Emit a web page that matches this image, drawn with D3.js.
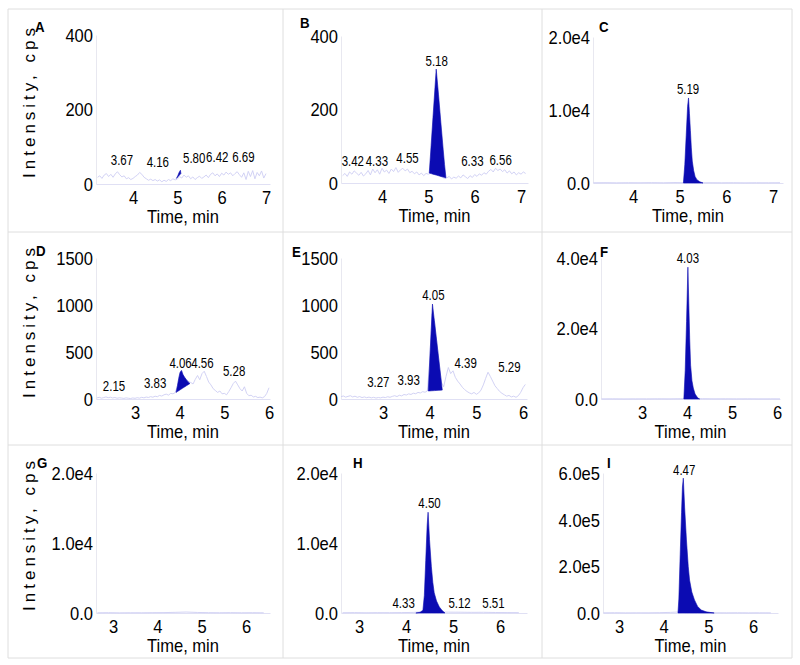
<!DOCTYPE html>
<html><head><meta charset="utf-8">
<script src="https://cdn.jsdelivr.net/npm/d3@7"></script>
<style>body{margin:0;background:#fff}</style>
</head><body><svg id="c" width="800" height="665"></svg>
<script>
// ================= DATA =================
const xTicksTop = [4, 5, 6, 7];
const xTicksMid = [3, 4, 5, 6];
const xTicksBot = [3, 4, 5, 6];

const yTicksAB = [0, 200, 400];          const yLabelsAB = ["0", "200", "400"];
const yTicksC  = [0, 10000, 20000];      const yLabelsC  = ["0.0", "1.0e4", "2.0e4"];
const yTicksDE = [0, 500, 1000, 1500];   const yLabelsDE = ["0", "500", "1000", "1500"];
const yTicksF  = [0, 20000, 40000];      const yLabelsF  = ["0.0", "2.0e4", "4.0e4"];
const yTicksGH = [0, 10000, 20000];      const yLabelsGH = ["0.0", "1.0e4", "2.0e4"];
const yTicksI  = [0, 200000, 400000, 600000]; const yLabelsI = ["0.0", "2.0e5", "4.0e5", "6.0e5"];

// background traces (intensity, cps) sampled on a regular time grid
const traceA_start = 3.20, traceA_step = 0.05;
const traceA = [18,22,15,24,28,20,26,18,27,33, 25,19,22,14,17,12,15,20,24,31,
  26,18,14,10,13,9,12,8,11,6, 10,7,12,9,14,11,13,20,16,24,
  18,22,14,19,12,17,21,15,19,24, 17,26,30,22,27,20,29,24,32,26,
  30,22,28,33,25,18,30,12,34,20, 36,14,31,22,35,16,28];
const traceB_start = 3.15, traceB_step = 0.05;
const traceB = [20,26,18,30,24,33,27,21,29,19, 25,34,22,38,28,36,24,40,30,35,
  26,38,31,42,29,36,40,33,38,28, 32,25,30,22,27,20,26,24,27,30,
  28,25,20,16,12,14,18,11,16,13, 19,14,22,17,12,20,15,23,18,25,
  21,28,24,32,37,30,40,34,38,31, 36,27,33,25,30,22,28,24,30,26];
const traceC_start = 3.15, traceC_step = 0.25;
const traceC = [30,45,25,40,35,50,30,60,40,35,45,30,40,25,35,30,40];
const traceD_start = 2.15, traceD_step = 0.05;
const traceD = [12,18,9,15,22,14,19,11,16,8, 13,10,6,12,8,5,11,7,14,9,
  18,12,21,16,25,19,30,24,38,31, 45,52,41,60,55,68,140,270,300,230,
  210,185,175,160,210,250,205,270,295,240, 180,150,110,90,70,85,55,60,45,80,
  120,165,190,150,110,85,130,60,35,40, 22,28,15,20,12,25,60,120];
const traceE_start = 2.10, traceE_step = 0.05;
const traceE = [25,32,20,28,35,22,30,18,26,15, 22,14,20,12,18,10,16,12,20,15,
  24,18,28,35,26,40,33,48,42,55, 48,62,56,70,64,78,72,85,393,907,
  836,618,400,182,130,240,335,270,300,230, 190,160,125,100,80,65,55,70,50,65,
  95,150,220,285,240,190,140,110,80,60, 45,30,38,22,30,18,35,70,120,155];
const traceF_start = 2.10, traceF_step = 0.25;
const traceF = [40,60,35,55,45,70,50,80,60,90,55,70,45,60,40,50,45];
const traceG_start = 2.65, traceG_step = 0.25;
const traceG = [30,45,25,40,35,50,60,90,140,80,50,40,55,35,45,30];
const traceH_start = 2.65, traceH_step = 0.25;
const traceH = [40,55,35,50,45,60,80,200,150,120,110,90,100,70,60,50];
const traceI_start = 2.65, traceI_step = 0.25;
const traceI = [800,1200,700,1000,900,1500,2500,5000,3000,1500,1200,900,1100,800,1000,700];

// integrated (filled) peaks: [time, intensity]
const peakA = [[4.98,15],[5.01,22],[5.04,31],[5.07,37],[5.08,28]];
const peakB = [[5.02,27],[5.06,102],[5.10,178],[5.14,253],[5.17,310],[5.22,240],[5.27,165],[5.32,92],[5.35,50],[5.38,14]];
const peakC = [[5.08,0],[5.11,2500],[5.14,6500],[5.17,10500],[5.19,11650],[5.21,9500],[5.23,7200],[5.25,4800],[5.27,3000],[5.30,1700],[5.33,900],[5.37,450],[5.43,180],[5.50,0]];
const peakD = [[3.92,70],[3.95,140],[3.98,220],[4.01,285],[4.04,304],[4.07,262],[4.11,232],[4.15,205],[4.19,182],[4.23,165]];
const peakE = [[3.97,85],[4.00,393],[4.03,702],[4.06,1010],[4.10,836],[4.14,662],[4.18,487],[4.22,313],[4.27,95]];
const peakF = [[3.93,0],[3.96,8000],[3.99,22000],[4.02,37400],[4.04,27000],[4.06,17000],[4.08,9600],[4.11,5200],[4.14,3100],[4.18,1400],[4.24,300],[4.28,0]];
const peakG = [];
const peakH = [[4.21,0],[4.30,100],[4.36,400],[4.39,2500],[4.42,7500],[4.45,12500],[4.47,14400],[4.50,10500],[4.54,6600],[4.57,4400],[4.60,2900],[4.65,1700],[4.71,860],[4.77,350],[4.83,0]];
const peakI = [[4.32,0],[4.34,60000],[4.37,250000],[4.40,430000],[4.42,540000],[4.44,578000],[4.47,450000],[4.51,313000],[4.55,200000],[4.58,141000],[4.63,90000],[4.69,56000],[4.76,28000],[4.84,13000],[4.95,5000],[5.13,0]];

// retention-time labels: [text, time anchor, intensity anchor]
const labelsA = [["3.67",3.75,51],["4.16",4.56,46],["5.80",5.38,56],["6.42",5.90,59],["6.69",6.49,59]];
const labelsB = [["3.42",3.37,46],["4.33",3.89,46],["4.55",4.55,54],["5.18",5.18,318],["6.33",5.95,46],["6.56",6.56,49]];
const labelsC = [["5.19",5.18,12190]];
const labelsD = [["2.15",2.53,85],["3.83",3.45,117],["4.06",4.02,331],["4.56",4.51,331],["5.28",5.22,245]];
const labelsE = [["3.27",2.90,127],["3.93",3.55,148],["4.05",4.08,1056],["4.39",4.77,327],["5.29",5.71,285]];
const labelsF = [["4.03",4.02,38580]];
const labelsG = [];
const labelsH = [["4.33",3.95,714],["4.50",4.50,15000],["5.12",5.14,714],["5.51",5.86,714]];
const labelsI = [["4.47",4.46,591400]];

const panelNames = ["A","B","C","D","E","F","G","H","I"];

// ================= LAYOUT / STYLE =================
const FONT = "'Liberation Sans', Arial, Helvetica, sans-serif";
const SX = 0.92, SXL = 0.82;
const svg = d3.select("#c");
svg.append("rect").attr("width",800).attr("height",665).attr("fill","#fff");

// cell grid
const rowsY = [9, 232, 445, 658], colsX = [8, 283, 542, 792];
rowsY.forEach(yy => svg.append("line").attr("x1",8).attr("x2",792).attr("y1",yy).attr("y2",yy).attr("stroke","#dedede"));
colsX.forEach(xx => svg.append("line").attr("x1",xx).attr("x2",xx).attr("y1",9).attr("y2",658).attr("stroke","#dedede"));

const panels = [
 {trace:traceA,t0:traceA_start,dt:traceA_step,peak:peakA,labels:labelsA,xt:[4,133,7,266],xr:[96,270],yr:[184,35],ymax:400,yT:yTicksAB,yL:yLabelsAB,xT:xTicksTop,let:[35,32]},
 {trace:traceB,t0:traceB_start,dt:traceB_step,peak:peakB,labels:labelsB,xt:[4,382,7,521],xr:[341,528],yr:[183,36],ymax:400,yT:yTicksAB,yL:yLabelsAB,xT:xTicksTop,let:[300,28]},
 {trace:traceC,t0:traceC_start,dt:traceC_step,peak:peakC,labels:labelsC,xt:[4,633,7,773],xr:[593,783],yr:[183,37],ymax:20000,yT:yTicksC,yL:yLabelsC,xT:xTicksTop,let:[599,32]},
 {trace:traceD,t0:traceD_start,dt:traceD_step,peak:peakD,labels:labelsD,xt:[3,135,6,269],xr:[96,270],yr:[399,258],ymax:1500,yT:yTicksDE,yL:yLabelsDE,xT:xTicksMid,let:[36,256]},
 {trace:traceE,t0:traceE_start,dt:traceE_step,peak:peakE,labels:labelsE,xt:[3,383,6,523],xr:[341,527],yr:[399,258],ymax:1500,yT:yTicksDE,yL:yLabelsDE,xT:xTicksMid,let:[292,257]},
 {trace:traceF,t0:traceF_start,dt:traceF_step,peak:peakF,labels:labelsF,xt:[3,642,6,777],xr:[601,780],yr:[399,258],ymax:40000,yT:yTicksF,yL:yLabelsF,xT:xTicksMid,let:[600,257]},
 {trace:traceG,t0:traceG_start,dt:traceG_step,peak:peakG,labels:labelsG,xt:[3,113,6,246],xr:[96,270],yr:[613,473],ymax:20000,yT:yTicksGH,yL:yLabelsGH,xT:xTicksBot,let:[37,468]},
 {trace:traceH,t0:traceH_start,dt:traceH_step,peak:peakH,labels:labelsH,xt:[3,359,6,500],xr:[341,527],yr:[613,473],ymax:20000,yT:yTicksGH,yL:yLabelsGH,xT:xTicksBot,let:[353,468]},
 {trace:traceI,t0:traceI_start,dt:traceI_step,peak:peakI,labels:labelsI,xt:[3,619,6,753],xr:[603,778],yr:[613,473],ymax:600000,yT:yTicksI,yL:yLabelsI,xT:xTicksBot,let:[607,468]}
];

panels.forEach((p, idx) => {
  const g = svg.append("g");
  const tick = d3.scaleLinear().domain([p.xt[0], p.xt[2]]).range([p.xt[1], p.xt[3]]);
  const x = d3.scaleLinear().domain([tick.invert(p.xr[0]), tick.invert(p.xr[1])]).range(p.xr);
  const y = d3.scaleLinear().domain([0, p.ymax]).range(p.yr);

  const cid = "clip" + idx;
  svg.append("clipPath").attr("id", cid).append("rect")
    .attr("x", p.xr[0]).attr("y", p.yr[1] - 30).attr("width", p.xr[1] - p.xr[0]).attr("height", p.yr[0] - p.yr[1] + 32);

  // y axis
  const gy = g.append("g").attr("transform", `translate(${p.xr[0]},0)`)
    .call(d3.axisLeft(y).tickValues(p.yT).tickFormat((d, i) => p.yL[i]).tickSize(0).tickSizeOuter(0))
    .attr("font-family", FONT).attr("font-size", 18);
  gy.select(".domain").attr("stroke", "#e8e8f0");
  gy.selectAll("text").attr("x", -3 / SX).attr("dy", "0.36em").attr("transform", `scale(${SX},1)`).attr("fill", "#000");

  // x axis
  const gx = g.append("g").attr("transform", `translate(0,${p.yr[0]})`)
    .call(d3.axisBottom(x).tickValues(p.xT).tickFormat(d3.format("d")).tickSize(0).tickSizeOuter(0))
    .attr("font-family", FONT).attr("font-size", 18);
  gx.select(".domain").attr("stroke", "#e0e0f4");
  gx.selectAll("text").attr("y", 20).attr("dy", null).attr("transform", `scale(${SX},1)`).attr("fill", "#000");

  // x title
  g.append("text").attr("transform", `translate(${(p.xr[0] + p.xr[1]) / 2},${p.yr[0] + 39}) scale(${SX},1)`)
    .attr("text-anchor", "middle").attr("font-family", FONT).attr("font-size", 18).attr("fill", "#000").text("Time, min");

  const plot = g.append("g").attr("clip-path", `url(#${cid})`);
  // background trace
  const pts = p.trace.map((v, i) => [p.t0 + i * p.dt, v]);
  plot.append("path").datum(pts)
    .attr("d", d3.line().x(d => x(d[0])).y(d => y(d[1])))
    .attr("fill", "none").attr("stroke", "#cdcdf3").attr("stroke-width", 0.9);

  // filled peak
  if (p.peak.length) {
    const [ta, va] = p.peak[0], [tb, vb] = p.peak[p.peak.length - 1];
    const base = t => va + (vb - va) * (t - ta) / (tb - ta);
    plot.append("path").datum(p.peak)
      .attr("d", d3.area().x(d => x(d[0])).y0(d => y(base(d[0]))).y1(d => y(d[1])))
      .attr("fill", "#0b0bb2").attr("stroke", "#0b0bb2").attr("stroke-width", 0.6);
  }

  // peak labels
  p.labels.forEach(l => {
    g.append("text").attr("transform", `translate(${x(l[1])},${y(l[2])}) scale(${SXL},1)`)
      .attr("text-anchor", "middle").attr("font-family", FONT).attr("font-size", 14).attr("fill", "#000").text(l[0]);
  });

  // panel letter
  g.append("text").attr("transform", `translate(${p.let[0]},${p.let[1]}) scale(0.95,1)`)
    .attr("font-family", FONT).attr("font-size", 14).attr("font-weight", "bold").attr("fill", "#000").text(panelNames[idx]);
});

// y titles (left column only)
[101, 321, 534].forEach(cy => {
  svg.append("text").attr("transform", `translate(35,${cy}) rotate(-90)`)
    .attr("text-anchor", "middle").attr("font-family", FONT).attr("font-size", 17)
    .attr("letter-spacing", "4px").attr("fill", "#000").text("Intensity, cps");
});
</script>
</body></html>
